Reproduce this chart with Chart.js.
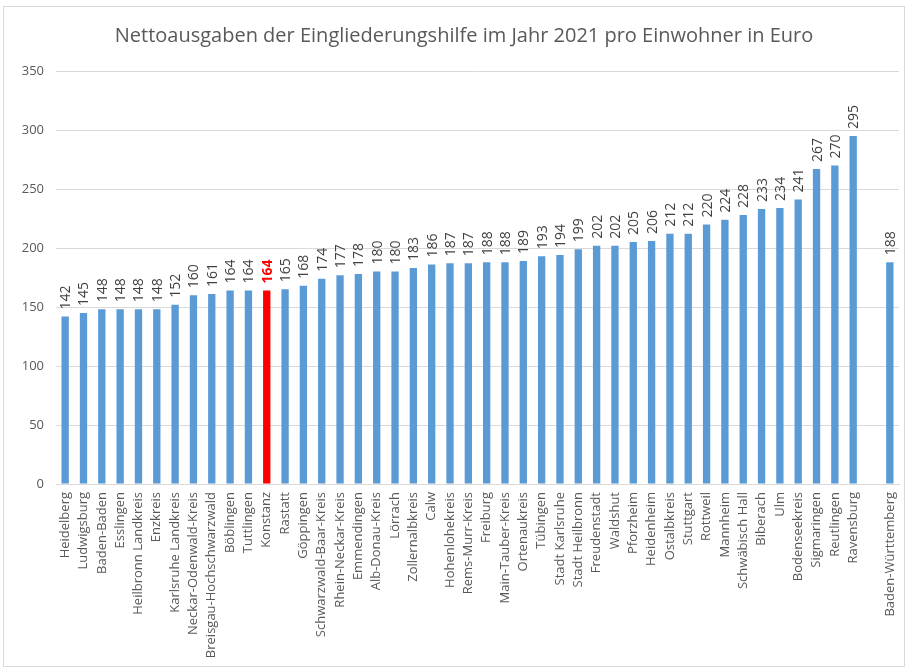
<!DOCTYPE html>
<html>
<head>
<meta charset="utf-8">
<script src="https://cdn.jsdelivr.net/npm/chart.js@4/dist/chart.umd.min.js"></script>
<style>
  body { margin: 0; background: #fff; }
  #wrap { width: 907px; height: 669px; }
</style>
</head>
<body>
<div id="wrap"><canvas id="eghChart" width="907" height="669"></canvas></div>
<script>
var titel = "Nettoausgaben der Eingliederungshilfe im Jahr 2021 pro Einwohner in Euro";
var kreise = ["Heidelberg", "Ludwigsburg", "Baden-Baden", "Esslingen", "Heilbronn Landkreis", "Enzkreis",
  "Karlsruhe Landkreis", "Neckar-Odenwald-Kreis", "Breisgau-Hochschwarzwald", "Böblingen", "Tuttlingen",
  "Konstanz", "Rastatt", "Göppingen", "Schwarzwald-Baar-Kreis", "Rhein-Neckar-Kreis", "Emmendingen",
  "Alb-Donau-Kreis", "Lörrach", "Zollernalbkreis", "Calw", "Hohenlohekreis", "Rems-Murr-Kreis", "Freiburg",
  "Main-Tauber-Kreis", "Ortenaukreis", "Tübingen", "Stadt Karlsruhe", "Stadt Heilbronn", "Freudenstadt",
  "Waldshut", "Pforzheim", "Heidenheim", "Ostalbkreis", "Stuttgart", "Rottweil", "Mannheim",
  "Schwäbisch Hall", "Biberach", "Ulm", "Bodenseekreis", "Sigmaringen", "Reutlingen", "Ravensburg",
  "", "Baden-Württemberg"];
var ausgaben = [142, 145, 148, 148, 148, 148, 152, 160, 161, 164, 164, 164, 165, 168, 174, 177, 178,
  180, 180, 183, 186, 187, 187, 188, 188, 189, 193, 194, 199, 202, 202, 205, 206, 212, 212, 220, 224,
  228, 233, 234, 241, 267, 270, 295, null, 188];
var markiert = "Konstanz";
var yTicks = [0, 50, 100, 150, 200, 250, 300, 350];

var blau = "#5B9BD5";
var rot = "#FF0000";
var grau = "#595959";

var barColors = kreise.map(function (k) { return k === markiert ? rot : blau; });

// Werte senkrecht ueber die Balken schreiben
var valueLabels = {
  id: 'valueLabels',
  afterDatasetsDraw: function (chart) {
    var ctx = chart.ctx;
    var meta = chart.getDatasetMeta(0);
    meta.data.forEach(function (bar, i) {
      var v = ausgaben[i];
      if (v === null) return;
      var hot = kreise[i] === markiert;
      ctx.save();
      ctx.translate(bar.x, bar.y - 7);
      ctx.rotate(-Math.PI / 2);
      ctx.font = (hot ? "bold " : "") + "14px 'Open Sans', sans-serif";
      ctx.fillStyle = hot ? rot : "#404040";
      ctx.textAlign = "left";
      ctx.textBaseline = "middle";
      ctx.fillText(String(v), 0, 1);
      ctx.restore();
    });
  }
};

// Rahmen und Titel
var frame = {
  id: 'frame',
  afterDraw: function (chart) {
    var ctx = chart.ctx;
    ctx.save();
    ctx.strokeStyle = "#d9d9d9";
    ctx.lineWidth = 1;
    ctx.strokeRect(3.5, 6.5, 901, 660);
    ctx.font = "20px 'Open Sans', sans-serif";
    ctx.fillStyle = grau;
    ctx.textAlign = "center";
    ctx.textBaseline = "middle";
    ctx.fillText(titel, 464, 36);
    ctx.restore();
  }
};

var myChart = new Chart(document.getElementById('eghChart'), {
  type: 'bar',
  data: {
    labels: kreise,
    datasets: [{
      data: ausgaben,
      backgroundColor: barColors,
      borderWidth: 0,
      barPercentage: 0.4,
      categoryPercentage: 1.0
    }]
  },
  options: {
    responsive: false,
    animation: false,
    layout: { padding: { left: 6, right: 8, top: 71, bottom: 0 } },
    plugins: {
      legend: { display: false },
      tooltip: { enabled: false },
      title: { display: false }
    },
    scales: {
      x: {
        grid: { display: false, drawTicks: false },
        border: { color: "#d9d9d9" },
        ticks: {
          color: grau,
          font: { family: "'Open Sans', sans-serif", size: 13 },
          minRotation: 90,
          maxRotation: 90,
          autoSkip: false,
          padding: 8
        },
        afterFit: function (s) {
          s.height = 185;
          s.paddingLeft = 0;
          s.paddingRight = 0;
        }
      },
      y: {
        min: 0,
        max: 350,
        afterBuildTicks: function (s) { s.ticks = yTicks.map(function (v) { return { value: v }; }); },
        grid: { color: "#d9d9d9", drawTicks: false },
        border: { display: false },
        ticks: {
          color: grau,
          font: { family: "'Open Sans', sans-serif", size: 13 },
          padding: 12
        },
        afterFit: function (s) { s.width = 50; }
      }
    }
  },
  plugins: [valueLabels, frame]
});
</script>
</body>
</html>
